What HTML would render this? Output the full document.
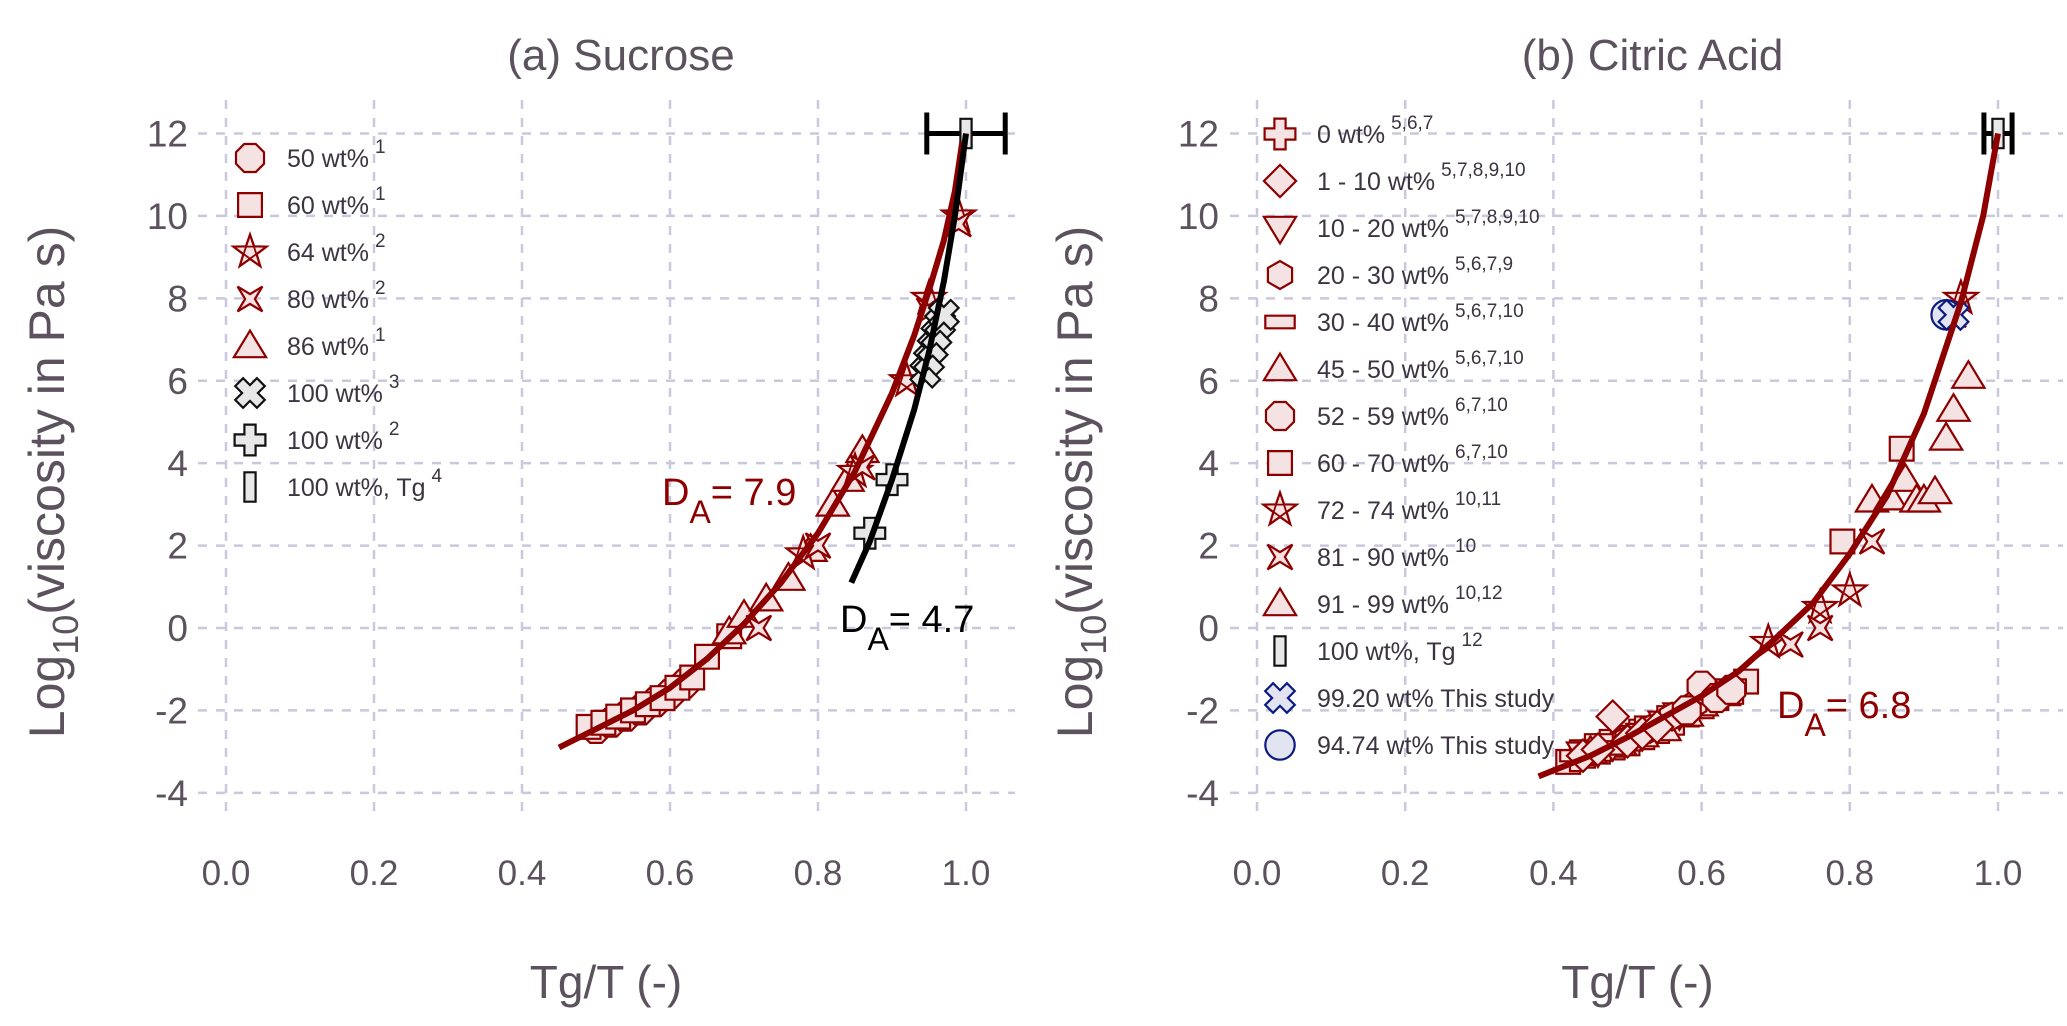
<!DOCTYPE html>
<html><head><meta charset="utf-8"><style>
html,body{margin:0;padding:0;background:#fff;}
svg{display:block;font-family:"Liberation Sans","DejaVu Sans",sans-serif;}
</style></head><body>
<svg id="chart" width="2067" height="1026" viewBox="0 0 2067 1026" xmlns="http://www.w3.org/2000/svg"></svg>
<script>
// ---- axis data ----
const xTicks=[0.0,0.2,0.4,0.6,0.8,1.0];
const xTickLabels=["0.0","0.2","0.4","0.6","0.8","1.0"];
const yTicks=[12,10,8,6,4,2,0,-2,-4];
const yTickLabels=["12","10","8","6","4","2","0","-2","-4"];
// ---- panel a (sucrose) ----
const aFitRedX=[0.45,0.5,0.55,0.6,0.65,0.7,0.75,0.8,0.85,0.9,0.93,0.95,0.97,0.985,0.995];
const aFitRedY=[-2.9,-2.45,-2.0,-1.45,-0.75,0.1,1.1,2.3,3.8,5.7,7.1,8.2,9.4,10.6,11.8];
const aFitBlkX=[0.845,0.87,0.9,0.93,0.95,0.97,0.985,1.0];
const aFitBlkY=[1.1,2.1,3.6,5.3,6.7,8.4,10.0,12.0];
const a50X=[0.5,0.52,0.54,0.56,0.58,0.6,0.62];
const a50Y=[-2.45,-2.3,-2.15,-2.0,-1.8,-1.6,-1.35];
const a60X=[0.49,0.51,0.53,0.55,0.57,0.59,0.61,0.63,0.65,0.68];
const a60Y=[-2.4,-2.3,-2.15,-2.0,-1.85,-1.7,-1.45,-1.2,-0.7,-0.2];
const a64X=[0.78,0.85,0.92,0.95,0.99];
const a64Y=[1.8,3.8,6.0,8.0,10.0];
const a80X=[0.72,0.8,0.86,0.95,0.99];
const a80Y=[0.0,2.0,3.9,7.7,9.8];
const a86X=[0.68,0.7,0.73,0.76,0.79,0.82,0.84,0.86];
const a86Y=[-0.1,0.3,0.7,1.2,1.9,3.0,3.6,4.3];
const a100xX=[0.945,0.95,0.955,0.96,0.965,0.97];
const a100xY=[6.2,6.5,6.8,7.1,7.4,7.6];
const a100pX=[0.87,0.9];
const a100pY=[2.3,3.6];
const aTgX=[1.0], aTgY=[12.0], aTgErr=[0.053];
// ---- panel b (citric acid) ----
const bFitX=[0.38,0.45,0.5,0.55,0.6,0.65,0.7,0.75,0.8,0.85,0.9,0.95,0.98,1.0];
const bFitY=[-3.6,-3.1,-2.65,-2.15,-1.65,-1.05,-0.25,0.6,1.8,3.2,5.2,7.9,10.0,12.0];
const b0X=[0.43,0.45,0.47,0.49,0.51];
const b0Y=[-3.1,-2.95,-2.85,-2.75,-2.6];
const b1X=[0.48,0.44,0.46,0.5,0.52,0.54];
const b1Y=[-2.15,-3.1,-2.95,-2.75,-2.55,-2.4];
const b10X=[0.44,0.46,0.48,0.5,0.52,0.55,0.57];
const b10Y=[-3.05,-3.0,-2.85,-2.75,-2.6,-2.3,-2.1];
const b20X=[0.5,0.53,0.56,0.59,0.61];
const b20Y=[-2.7,-2.45,-2.15,-1.85,-1.6];
const b30X=[0.47,0.5,0.53,0.56,0.59,0.62,0.64];
const b30Y=[-2.9,-2.7,-2.3,-2.05,-1.85,-1.6,-1.4];
const b45X=[0.45,0.49,0.52,0.55,0.58,0.6,0.63];
const b45Y=[-3.0,-2.8,-2.6,-2.45,-2.1,-1.85,-1.6];
const b52X=[0.6,0.62,0.64,0.58];
const b52Y=[-1.4,-1.7,-1.5,-2.0];
const b60X=[0.42,0.44,0.46,0.48,0.5,0.52,0.54,0.56,0.58,0.6,0.62,0.64,0.66,0.79,0.87];
const b60Y=[-3.25,-3.1,-3.0,-2.9,-2.8,-2.65,-2.5,-2.3,-2.1,-1.9,-1.7,-1.55,-1.3,2.1,4.35];
const b72X=[0.69,0.76,0.8,0.95];
const b72Y=[-0.35,0.5,0.9,8.0];
const b81X=[0.72,0.76,0.83,0.94];
const b81Y=[-0.4,0.0,2.1,7.6];
const b91X=[0.83,0.855,0.875,0.89,0.9,0.915,0.93,0.94,0.96];
const b91Y=[3.1,3.15,3.6,3.1,3.1,3.3,4.6,5.3,6.1];
const bTgX=[1.0], bTgY=[12.0], bTgErr=[0.019];
const b99X=[0.94], b99Y=[7.6];
const b94X=[0.93], b94Y=[7.6];

const NS="http://www.w3.org/2000/svg";
const svg=document.getElementById('chart');
const RED="#8e0000", PINK="#f5e3e3", GRID="#c9c8dc", TXT="#5b525e", BLUE="#0a1a80", BLUEF="#e3e4f2";
function mk(tag,attrs,parent){const e=document.createElementNS(NS,tag);for(const k in attrs)e.setAttribute(k,attrs[k]);(parent||svg).appendChild(e);return e;}

const panels={
 a:{x0:226,x1:966,yT:133.5,y0:628,gx0:198,gx1:1015,gy0:100,gy1:817},
 b:{x0:1257,x1:1998,yT:133.5,y0:628,gx0:1230,gx1:2063,gy0:100,gy1:817}
};
function sx(p,v){return p.x0+(p.x1-p.x0)*v;}
function sy(p,v){return p.y0-(p.y0-p.yT)/12*v;}

function drawAxes(p,key,title,ytx){
  const g=mk('g',{});
  
  
  xTicks.forEach((t,i)=>{
    const x=sx(p,t);
    const l=mk('line',{x1:x,x2:x,y1:p.gy0,y2:p.gy1,stroke:GRID,'stroke-width':2.5,'stroke-dasharray':'9 9'},g);
    
    
    const tx=mk('text',{x:x,y:885,'font-size':35,fill:TXT,'text-anchor':'middle'});
    tx.textContent=xTickLabels[i];
    
    
  });
  yTicks.forEach((t,i)=>{
    const y=sy(p,t);
    const l=mk('line',{x1:p.gx0,x2:p.gx1,y1:y,y2:y,stroke:GRID,'stroke-width':2.5,'stroke-dasharray':'9 9'},g);
    
    
    const tx=mk('text',{x:p.x0-38,y:y+13,'font-size':37,fill:TXT,'text-anchor':'end'});
    tx.textContent=yTickLabels[i];
    
    
  });
  const tt=mk('text',{x:(p.x0+p.x1)/2+25,y:70,'font-size':44,fill:TXT,'text-anchor':'middle'});
  tt.textContent=title;
  
  
  const xt=mk('text',{x:(p.x0+p.x1)/2+10,y:998,'font-size':46,fill:TXT,'text-anchor':'middle'});
  xt.textContent='Tg/T (-)';
  
  
  const yt=mk('text',{x:0,y:0,'font-size':50,fill:TXT,'text-anchor':'middle',transform:'translate('+ytx+',482) rotate(-90)'});
  yt.innerHTML='Log<tspan font-size="36" dy="14">10</tspan><tspan dy="-14">(viscosity in Pa s)</tspan>';
  
  
}

function poly(n,r,rot){let pts=[];for(let i=0;i<n;i++){const a=rot+i*2*Math.PI/n;pts.push([r*Math.cos(a),r*Math.sin(a)]);}return pts;}
function star(n,ro,ri){let pts=[];for(let i=0;i<2*n;i++){const r=i%2?ri:ro;const a=-Math.PI/2+i*Math.PI/n;pts.push([r*Math.cos(a),r*Math.sin(a)]);}return pts;}
function ptsStr(pts,cx,cy){return pts.map(q=>(cx+q[0]).toFixed(1)+','+(cy+q[1]).toFixed(1)).join(' ');}
const S=14;
const shapes={
 oct:()=>poly(8,S*1.08,Math.PI/8),
 hex:()=>poly(6,S,Math.PI/2),
 sq:()=>[[-S*0.85,-S*0.85],[S*0.85,-S*0.85],[S*0.85,S*0.85],[-S*0.85,S*0.85]],
 rect:()=>[[-S*1.05,-S*0.45],[S*1.05,-S*0.45],[S*1.05,S*0.45],[-S*1.05,S*0.45]],
 tall:()=>[[-S*0.4,-S*1.05],[S*0.4,-S*1.05],[S*0.4,S*1.05],[-S*0.4,S*1.05]],
 tri:()=>[[0,-S*1.1],[S*1.15,S*0.8],[-S*1.15,S*0.8]],
 itri:()=>[[0,S*1.1],[S*1.15,-S*0.8],[-S*1.15,-S*0.8]],
 dia:()=>[[0,-S*1.15],[S*1.15,0],[0,S*1.15],[-S*1.15,0]],
 star4:()=>{let p=[];for(let i=0;i<8;i++){const r=i%2?S*0.35:S*1.25;const a=-Math.PI/4+i*Math.PI/4;p.push([r*Math.cos(a),r*Math.sin(a)]);}return p;},
 plus:()=>{const a=S*0.4,b=S*1.1;return [[-a,-b],[a,-b],[a,-a],[b,-a],[b,a],[a,a],[a,b],[-a,b],[-a,a],[-b,a],[-b,-a],[-a,-a]];},
 cross:()=>{const a=S*0.4,b=S*1.1;return [[-a,-b],[a,-b],[a,-a],[b,-a],[b,a],[a,a],[a,b],[-a,b],[-a,a],[-b,a],[-b,-a],[-a,-a]].map(q=>{const c=Math.SQRT1_2;return [(q[0]-q[1])*c,(q[0]+q[1])*c];});}
};
function marker(type,cx,cy,stroke,fill,parent,name){
  let e;
  if(type==='circle'){e=mk('circle',{cx:cx,cy:cy,r:S*1.05,fill:fill,stroke:stroke,'stroke-width':2.2},parent);}
  else if(type==='pstar'){
    const outer=star(5,S*1.25,S*0.5);
    e=mk('g',{},parent);
    mk('polygon',{points:ptsStr(outer,cx,cy),fill:fill,stroke:stroke,'stroke-width':2.2},e);
    const p5=poly(5,S*1.25,-Math.PI/2);const ord=[0,2,4,1,3];
    mk('polygon',{points:ptsStr(ord.map(i=>p5[i]),cx,cy),fill:'none',stroke:stroke,'stroke-width':1.8},e);
  } else {e=mk('polygon',{points:ptsStr(shapes[type](),cx,cy),fill:fill,stroke:stroke,'stroke-width':2.2},parent);}
  
  
  return e;
}
function series(p,xs,ys,type,stroke,fill,name){
  const g=mk('g',{});
  
  
  xs.forEach((v,i)=>marker(type,sx(p,v),sy(p,ys[i]),stroke,fill,g,name+'-point'));
}
function curve(p,xs,ys,color,name){
  const d=xs.map((v,i)=>(i?'L':'M')+sx(p,v).toFixed(1)+','+sy(p,ys[i]).toFixed(1)).join(' ');
  const e=mk('path',{d:d,fill:'none',stroke:color,'stroke-width':6,'stroke-linejoin':'round','stroke-linecap':'butt'});
  
  
}
function errbar(p,xs,ys,errs,name){
  xs.forEach((v,i)=>{
    const g=mk('g',{});
    
    
    const y=sy(p,ys[i]),xl=sx(p,v-errs[i]),xr=sx(p,v+errs[i]);
    mk('line',{x1:xl,x2:xr,y1:y,y2:y,stroke:'#000','stroke-width':5},g);
    mk('line',{x1:xl,x2:xl,y1:y-21,y2:y+21,stroke:'#000','stroke-width':5},g);
    mk('line',{x1:xr,x2:xr,y1:y-21,y2:y+21,stroke:'#000','stroke-width':5},g);
  });
}
function legend(items,mx,tx,y0,dy,key){
  const g=mk('g',{});
  
  
  items.forEach((it,i)=>{
    const y=y0+i*dy;
    marker(it[0],mx,y,it[1],it[2],g,'legend-marker');
    const t=mk('text',{x:tx,y:y+9,'font-size':25,fill:'#3c3440'},g);
    t.innerHTML=it[3]+(it[4]?'<tspan font-size="19" dy="-14" dx="6">'+it[4]+'</tspan>':'');
    
    
  });
}
function label(x,y,color,val,name){
  const t=mk('text',{x:x,y:y,'font-size':38,fill:color});
  t.innerHTML='D<tspan font-size="32" dy="18">A</tspan><tspan dy="-18">= '+val+'</tspan>';
  
  
}

const A=panels.a,B=panels.b;
drawAxes(A,'a','(a) Sucrose',64);
drawAxes(B,'b','(b) Citric Acid',1092);

// panel a
series(A,a50X,a50Y,'oct',RED,PINK,'sucrose-50wt');
series(A,a60X,a60Y,'sq',RED,PINK,'sucrose-60wt');
series(A,a86X,a86Y,'tri',RED,PINK,'sucrose-86wt');
series(A,a64X,a64Y,'pstar',RED,PINK,'sucrose-64wt');
series(A,a80X,a80Y,'star4',RED,PINK,'sucrose-80wt');
series(A,a100xX,a100xY,'cross','#111','#e8e8e8','sucrose-100wt-ref3');
series(A,a100pX,a100pY,'plus','#111','#e8e8e8','sucrose-100wt-ref2');
errbar(A,aTgX,aTgY,aTgErr,'sucrose-tg-errorbar');
series(A,aTgX,aTgY,'tall','#111','#e8e8e8','sucrose-tg');
curve(A,aFitRedX,aFitRedY,RED,'sucrose-fit-da79');
curve(A,aFitBlkX,aFitBlkY,'#000','sucrose-fit-da47');
label(662,505,RED,'7.9','label-da-7-9');
label(840,632,'#000','4.7','label-da-4-7');
legend([
 ['oct',RED,PINK,'50 wt%','1'],['sq',RED,PINK,'60 wt%','1'],['pstar',RED,PINK,'64 wt%','2'],
 ['star4',RED,PINK,'80 wt%','2'],['tri',RED,PINK,'86 wt%','1'],['cross','#111','#e8e8e8','100 wt%','3'],
 ['plus','#111','#e8e8e8','100 wt%','2'],['tall','#111','#e8e8e8','100 wt%, Tg','4']
],250,287,158,47,'a');

// panel b
series(B,b60X,b60Y,'sq',RED,PINK,'citric-60-70wt');
series(B,b0X,b0Y,'plus',RED,PINK,'citric-0wt');
series(B,b10X,b10Y,'itri',RED,PINK,'citric-10-20wt');
series(B,b30X,b30Y,'rect',RED,PINK,'citric-30-40wt');
series(B,b45X,b45Y,'tri',RED,PINK,'citric-45-50wt');
series(B,b20X,b20Y,'hex',RED,PINK,'citric-20-30wt');
series(B,b52X,b52Y,'oct',RED,PINK,'citric-52-59wt');
series(B,b1X,b1Y,'dia',RED,PINK,'citric-1-10wt');
series(B,b91X,b91Y,'tri',RED,PINK,'citric-91-99wt');
series(B,b72X,b72Y,'pstar',RED,PINK,'citric-72-74wt');
series(B,b81X,b81Y,'star4',RED,PINK,'citric-81-90wt');
series(B,b94X,b94Y,'circle',BLUE,BLUEF,'citric-94-74wt-this-study');
series(B,b99X,b99Y,'cross',BLUE,BLUEF,'citric-99-20wt-this-study');
errbar(B,bTgX,bTgY,bTgErr,'citric-tg-errorbar');
series(B,bTgX,bTgY,'tall','#111','#e8e8e8','citric-tg');
curve(B,bFitX,bFitY,RED,'citric-fit-da68');
label(1777,718,RED,'6.8','label-da-6-8');
legend([
 ['plus',RED,PINK,'0 wt%','5,6,7'],['dia',RED,PINK,'1 - 10 wt%','5,7,8,9,10'],['itri',RED,PINK,'10 - 20 wt%','5,7,8,9,10'],
 ['hex',RED,PINK,'20 - 30 wt%','5,6,7,9'],['rect',RED,PINK,'30 - 40 wt%','5,6,7,10'],['tri',RED,PINK,'45 - 50 wt%','5,6,7,10'],
 ['oct',RED,PINK,'52 - 59 wt%','6,7,10'],['sq',RED,PINK,'60 - 70 wt%','6,7,10'],['pstar',RED,PINK,'72 - 74 wt%','10,11'],
 ['star4',RED,PINK,'81 - 90 wt%','10'],['tri',RED,PINK,'91 - 99 wt%','10,12'],['tall','#111','#e8e8e8','100 wt%, Tg','12'],
 ['cross',BLUE,BLUEF,'99.20 wt% This study',''],['circle',BLUE,BLUEF,'94.74 wt% This study','']
],1280,1317,134,47,'b');
</script>
</body></html>
